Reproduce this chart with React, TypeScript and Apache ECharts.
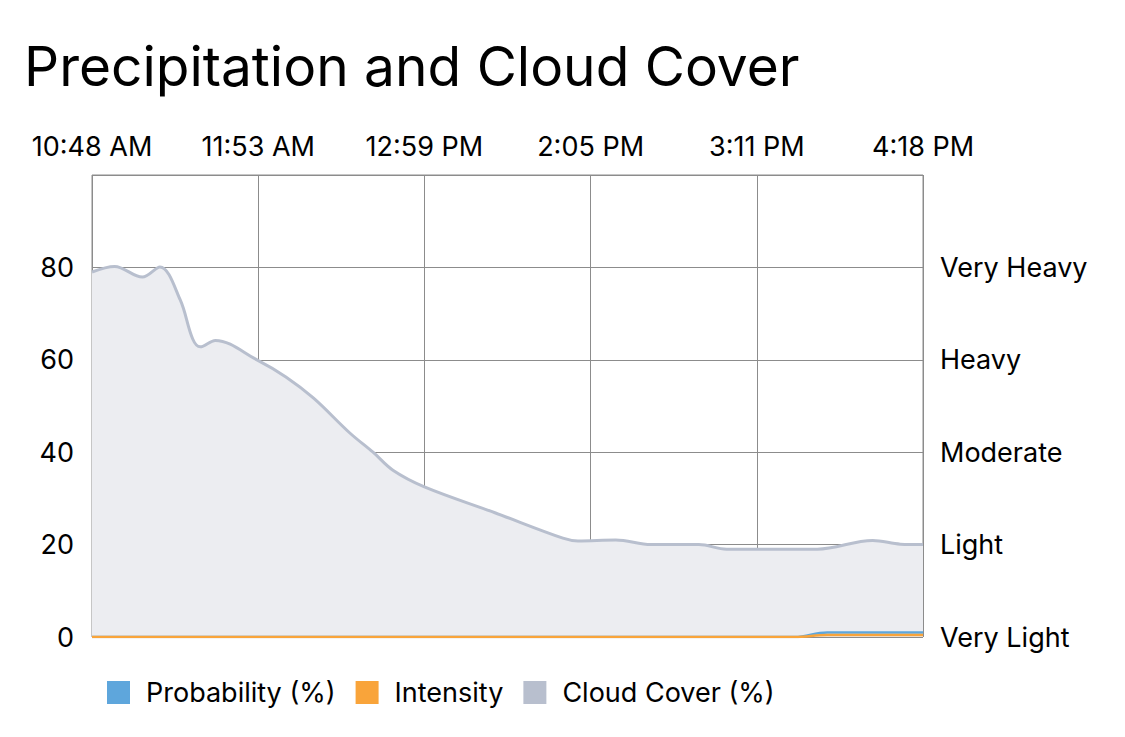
import React, { useEffect, useRef } from "react";
import * as echarts from "echarts";

const titleText = "Precipitation and Cloud Cover";
const timeTickLabels = ["10:48 AM", "11:53 AM", "12:59 PM", "2:05 PM", "3:11 PM", "4:18 PM"];
const intensityLabels = ["Very Light", "Light", "Moderate", "Heavy", "Very Heavy"];

// minutes since first tick
const cloudTimes = [0, 9, 20, 27, 35, 40, 43, 49, 65.5, 77, 88, 102.5, 111.6, 119.5, 132, 160, 187, 193, 208, 222, 241, 252, 270, 288, 310, 321, 330];
const cloudValues = [79, 80.2, 77.9, 80.1, 73, 64.5, 62.8, 64.2, 60, 56.3, 51.7, 44.1, 40, 36.1, 32.5, 26.9, 21.4, 20.8, 21, 20, 20, 19, 19, 19, 20.9, 20.1, 20];

const precipTimes = [0, 100, 200, 270, 279, 292, 310, 330];
const probabilityValues = [0, 0, 0, 0, 0, 1, 1, 1];
const intensityValues = [0, 0, 0, 0, 0, 0.45, 0.45, 0.45];

const FONT = "Inter, 'Noto Sans', sans-serif";
const LABEL_SIZE = 27;

export default function App() {
  const ref = useRef<HTMLDivElement>(null);
  useEffect(() => {
    if (!ref.current) return;
    const chart = echarts.init(ref.current, undefined, { renderer: "svg" });
    const pair = (t: number[], v: number[]) => t.map((x, i) => [x, v[i]]);
    chart.setOption({
      animation: false,
      backgroundColor: "#ffffff",
      title: {
        text: titleText,
        left: 24,
        top: 38,
        padding: 0,
        textStyle: { fontFamily: FONT, fontSize: 55, fontWeight: "normal", color: "#000" },
      },
      legend: {
        left: 107,
        top: 679,
        padding: 0,
        itemWidth: 23,
        itemHeight: 23,
        itemGap: 20,
        icon: "rect",
        textStyle: { fontFamily: FONT, fontSize: LABEL_SIZE, color: "#000", padding: [0, 0, 0, 11] },
        data: ["Probability (%)", "Intensity", "Cloud Cover (%)"],
      },
      grid: {
        left: 92,
        right: 202,
        top: 175,
        bottom: 100,
        show: true,
        borderColor: "#8c8c8c",
        borderWidth: 1,
      },
      xAxis: {
        type: "value",
        position: "top",
        min: 0,
        max: 330,
        interval: 66,
        axisLine: { show: false },
        axisTick: { show: false },
        axisLabel: {
          margin: 15,
          fontFamily: FONT,
          fontSize: LABEL_SIZE,
          color: "#000",
          formatter: (v: number) => timeTickLabels[Math.round(v / 66)] ?? "",
        },
        splitLine: { show: true, lineStyle: { color: "#8c8c8c", width: 1 } },
      },
      yAxis: [
        {
          type: "value",
          min: 0,
          max: 100,
          interval: 20,
          axisLine: { show: false },
          axisTick: { show: false },
          axisLabel: {
            margin: 18,
            fontFamily: FONT,
            fontSize: LABEL_SIZE,
            color: "#000",
            formatter: (v: number) => (v >= 100 ? "" : String(v)),
          },
          splitLine: { show: true, lineStyle: { color: "#8c8c8c", width: 1 } },
        },
        {
          type: "value",
          min: 0,
          max: 100,
          interval: 20,
          position: "right",
          axisLine: { show: false },
          axisTick: { show: false },
          axisLabel: {
            margin: 17,
            fontFamily: FONT,
            fontSize: LABEL_SIZE,
            color: "#000",
            formatter: (v: number) => intensityLabels[Math.round(v / 20)] ?? "",
          },
          splitLine: { show: false },
        },
      ],
      series: [
        {
          name: "Cloud Cover (%)",
          type: "line",
          data: pair(cloudTimes, cloudValues),
          smooth: 0.35,
          showSymbol: false,
          color: "#b8bfce",
          lineStyle: { color: "#b8bfce", width: 3 },
          areaStyle: { color: "#ecedf1", opacity: 1 },
          z: 1,
        },
        {
          name: "Intensity",
          type: "line",
          data: pair(precipTimes, intensityValues),
          smooth: 0.4,
          showSymbol: false,
          color: "#f9a43a",
          lineStyle: { color: "#f9a43a", width: 2.5 },
          z: 3,
        },
        {
          name: "Probability (%)",
          type: "line",
          data: pair(precipTimes, probabilityValues),
          smooth: 0.4,
          showSymbol: false,
          color: "#5ea6dc",
          lineStyle: { color: "#5ea6dc", width: 2.5 },
          z: 2,
        },
      ],
    });
    return () => chart.dispose();
  }, []);
  return <div ref={ref} style={{ width: 1125, height: 737, position: "absolute", left: 0, top: 0 }} />;
}
